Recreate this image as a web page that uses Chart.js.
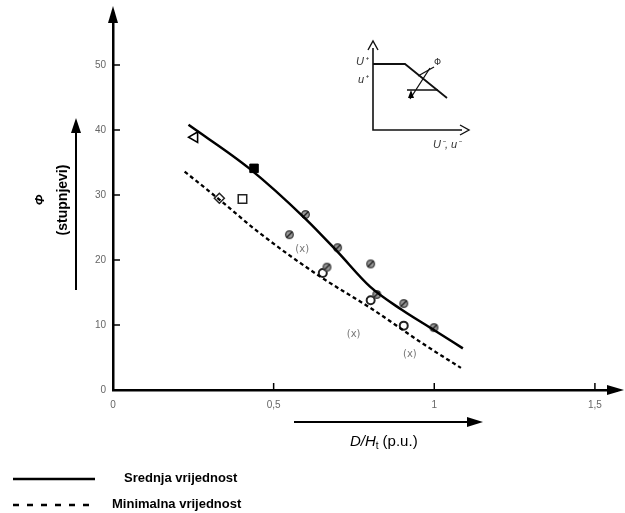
<!DOCTYPE html>
<html>
<head>
<meta charset="utf-8">
<script src="https://cdn.jsdelivr.net/npm/chart.js@4"></script>
<style>
html, body { margin: 0; padding: 0; background: #fff; }
</style>
</head>
<body>
<canvas id="chart" width="625" height="513"></canvas>
<script>
// Axis ticks
const xTicks = [0, 0.5, 1, 1.5];
const xTickLabels = ['0', '0,5', '1', '1,5'];
const yTicks = [0, 10, 20, 30, 40, 50];

// Curves
const meanX = [0.235, 0.424, 0.6, 0.7, 0.8, 0.9, 1.0, 1.089];
const meanY = [40.8, 34.1, 26.3, 21.2, 15.9, 12.3, 9.2, 6.4];
const minX = [0.223, 0.331, 0.455, 0.64, 0.805, 0.97, 1.083];
const minY = [33.6, 29.3, 24.2, 17.6, 12.5, 6.95, 3.4];

// Measured points, by marker type
const triX = [0.254];
const triY = [38.9];
const filledSqX = [0.439];
const filledSqY = [34.1];
const openSqX = [0.403];
const openSqY = [29.4];
const diamondX = [0.331];
const diamondY = [29.5];
const slashX = [0.599, 0.549, 0.699, 0.802, 0.666, 0.821, 0.905, 0.999];
const slashY = [27.0, 23.9, 21.9, 19.4, 18.9, 14.7, 13.3, 9.6];
const ringX = [0.653, 0.802, 0.905];
const ringY = [18.0, 13.8, 9.9];

// "(x)" notes
const noteX = [0.589, 0.749, 0.924];
const noteY = [21.7, 8.5, 5.4];

const legendLabels = ['Srednja vrijednost', 'Minimalna vrijednost'];

function pts(xs, ys) {
    return xs.map((x, i) => ({ x: x, y: ys[i] }));
}

// grey circle with a slash, like the scanned markers
function slashMarker() {
    const c = document.createElement('canvas');
    c.width = 11; c.height = 11;
    const g = c.getContext('2d');
    g.beginPath();
    g.arc(5.5, 5.5, 3.8, 0, Math.PI * 2);
    g.fillStyle = '#999';
    g.fill();
    g.lineWidth = 1.4;
    g.strokeStyle = '#444';
    g.stroke();
    g.beginPath();
    g.moveTo(2.5, 8.5);
    g.lineTo(8.5, 2.5);
    g.strokeStyle = '#222';
    g.stroke();
    return c;
}

const overlay = {
    id: 'overlay',
    afterDraw(chart) {
        const ctx = chart.ctx;
        const a = chart.chartArea;
        const xs = chart.scales.x;
        const ys = chart.scales.y;
        ctx.save();
        ctx.fillStyle = '#000';
        ctx.strokeStyle = '#000';

        // axis arrowheads
        ctx.beginPath();
        ctx.moveTo(a.left, 6);
        ctx.lineTo(a.left - 5, 23);
        ctx.lineTo(a.left + 5, 23);
        ctx.closePath();
        ctx.fill();
        ctx.beginPath();
        ctx.moveTo(624, a.bottom);
        ctx.lineTo(607, a.bottom - 5);
        ctx.lineTo(607, a.bottom + 5);
        ctx.closePath();
        ctx.fill();

        // inward tick marks
        ctx.lineWidth = 1.5;
        yTicks.forEach(v => {
            if (v === 0) return;
            const py = ys.getPixelForValue(v);
            ctx.beginPath();
            ctx.moveTo(a.left, py);
            ctx.lineTo(a.left + 7, py);
            ctx.stroke();
        });
        xTicks.forEach(v => {
            if (v === 0) return;
            const px = xs.getPixelForValue(v);
            ctx.beginPath();
            ctx.moveTo(px, a.bottom);
            ctx.lineTo(px, a.bottom - 7);
            ctx.stroke();
        });

        // y title with arrow
        ctx.lineWidth = 2;
        ctx.beginPath();
        ctx.moveTo(76, 290);
        ctx.lineTo(76, 128);
        ctx.stroke();
        ctx.beginPath();
        ctx.moveTo(76, 118);
        ctx.lineTo(71, 133);
        ctx.lineTo(81, 133);
        ctx.closePath();
        ctx.fill();
        ctx.save();
        ctx.translate(40, 200);
        ctx.rotate(-Math.PI / 2);
        ctx.textAlign = 'center';
        ctx.textBaseline = 'middle';
        ctx.font = 'italic bold 13px "Liberation Sans", Arial, sans-serif';
        ctx.fillText('Φ', 0, 0);
        ctx.restore();
        ctx.save();
        ctx.translate(63, 200);
        ctx.rotate(-Math.PI / 2);
        ctx.textAlign = 'center';
        ctx.textBaseline = 'middle';
        ctx.font = 'bold 14px "Liberation Sans", Arial, sans-serif';
        ctx.fillText('(stupnjevi)', 0, 0);
        ctx.restore();

        // x title with arrow
        ctx.beginPath();
        ctx.moveTo(294, 422);
        ctx.lineTo(470, 422);
        ctx.stroke();
        ctx.beginPath();
        ctx.moveTo(483, 422);
        ctx.lineTo(467, 417);
        ctx.lineTo(467, 427);
        ctx.closePath();
        ctx.fill();
        ctx.textBaseline = 'alphabetic';
        ctx.textAlign = 'left';
        let tx = 350;
        const ty = 446;
        ctx.font = 'italic 15px "Liberation Sans", Arial, sans-serif';
        ctx.fillText('D/H', tx, ty);
        tx += ctx.measureText('D/H').width;
        ctx.font = '10px "Liberation Sans", Arial, sans-serif';
        ctx.fillText('t', tx, ty + 3);
        tx += ctx.measureText('t').width + 4;
        ctx.font = '15px "Liberation Sans", Arial, sans-serif';
        ctx.fillText('(p.u.)', tx, ty);

        // "(x)" notes
        ctx.fillStyle = '#777';
        ctx.font = '10px "DejaVu Sans", sans-serif';
        ctx.textAlign = 'center';
        ctx.textBaseline = 'middle';
        noteX.forEach((v, i) => {
            ctx.fillText('(x)', xs.getPixelForValue(v), ys.getPixelForValue(noteY[i]));
        });

        // inset sketch
        ctx.fillStyle = '#000';
        ctx.strokeStyle = '#111';
        ctx.lineWidth = 1.6;
        ctx.beginPath();
        ctx.moveTo(373, 48);
        ctx.lineTo(373, 130);
        ctx.lineTo(462, 130);
        ctx.stroke();
        ctx.lineWidth = 1.4;
        ctx.beginPath();
        ctx.moveTo(368, 50); ctx.lineTo(373, 41); ctx.lineTo(378, 50);
        ctx.stroke();
        ctx.beginPath();
        ctx.moveTo(460, 125); ctx.lineTo(469, 130); ctx.lineTo(460, 135);
        ctx.stroke();
        ctx.lineWidth = 1.8;
        ctx.beginPath();
        ctx.moveTo(373, 64);
        ctx.lineTo(405, 64);
        ctx.lineTo(447, 98);
        ctx.stroke();
        ctx.lineWidth = 1.3;
        ctx.beginPath();
        ctx.moveTo(407, 90);
        ctx.lineTo(438, 90);
        ctx.moveTo(410, 99);
        ctx.lineTo(430, 68);
        ctx.stroke();
        ctx.beginPath();
        ctx.moveTo(411, 90); ctx.lineTo(408, 98); ctx.lineTo(414, 98);
        ctx.closePath();
        ctx.fill();
        ctx.beginPath();
        ctx.moveTo(418, 76); ctx.lineTo(434, 67);
        ctx.stroke();
        ctx.font = '9px "DejaVu Sans", sans-serif';
        ctx.textAlign = 'left';
        ctx.fillStyle = '#333';
        ctx.fillText('Φ', 434, 63);
        ctx.font = 'italic 11px "Liberation Sans", Arial, sans-serif';
        ctx.textAlign = 'right';
        ctx.fillText('U⁺', 368, 62);
        ctx.fillText('u⁺', 368, 80);
        ctx.textAlign = 'left';
        ctx.fillText('U⁻, u⁻', 433, 145);

        // legend
        ctx.fillStyle = '#000';
        ctx.strokeStyle = '#000';
        ctx.lineWidth = 2.5;
        ctx.beginPath();
        ctx.moveTo(13, 479);
        ctx.lineTo(95, 479);
        ctx.stroke();
        ctx.setLineDash([6, 8]);
        ctx.beginPath();
        ctx.moveTo(13, 505);
        ctx.lineTo(90, 505);
        ctx.stroke();
        ctx.setLineDash([]);
        ctx.font = 'bold 13px "Liberation Sans", Arial, sans-serif';
        ctx.textAlign = 'left';
        ctx.textBaseline = 'middle';
        ctx.fillText(legendLabels[0], 124, 478);
        ctx.fillText(legendLabels[1], 112, 504);

        ctx.restore();
    }
};

window.addEventListener('DOMContentLoaded', () => {
    const ctx = document.getElementById('chart').getContext('2d');
    new Chart(ctx, {
        type: 'scatter',
        data: {
            datasets: [
                {
                    type: 'line',
                    label: legendLabels[0],
                    data: pts(meanX, meanY),
                    borderColor: '#000',
                    borderWidth: 2.5,
                    pointRadius: 0,
                    cubicInterpolationMode: 'monotone',
                    fill: false
                },
                {
                    type: 'line',
                    label: legendLabels[1],
                    data: pts(minX, minY),
                    borderColor: '#000',
                    borderWidth: 2.3,
                    borderDash: [4, 3],
                    pointRadius: 0,
                    cubicInterpolationMode: 'monotone',
                    fill: false
                },
                {
                    data: pts(triX, triY),
                    pointStyle: 'triangle',
                    rotation: -90,
                    pointRadius: 6,
                    borderColor: '#000',
                    borderWidth: 1.6,
                    backgroundColor: '#fff'
                },
                {
                    data: pts(filledSqX, filledSqY),
                    pointStyle: 'rect',
                    pointRadius: 6,
                    borderColor: '#000',
                    backgroundColor: '#000'
                },
                {
                    data: pts(openSqX, openSqY),
                    pointStyle: 'rect',
                    pointRadius: 6,
                    borderColor: '#222',
                    borderWidth: 1.5,
                    backgroundColor: '#fff'
                },
                {
                    data: pts(diamondX, diamondY),
                    pointStyle: 'rectRot',
                    pointRadius: 5,
                    borderColor: '#222',
                    borderWidth: 1.5,
                    backgroundColor: '#fff'
                },
                {
                    data: pts(slashX, slashY),
                    pointStyle: slashMarker()
                },
                {
                    data: pts(ringX, ringY),
                    pointStyle: 'circle',
                    pointRadius: 4,
                    borderColor: '#222',
                    borderWidth: 2,
                    backgroundColor: 'rgba(255,255,255,0)'
                }
            ]
        },
        options: {
            responsive: false,
            animation: false,
            layout: { padding: { top: 8, right: 5, left: 0, bottom: 0 } },
            plugins: {
                legend: { display: false },
                tooltip: { enabled: false }
            },
            scales: {
                x: {
                    type: 'linear',
                    min: 0,
                    max: 1.57,
                    afterBuildTicks: axis => { axis.ticks = xTicks.map(v => ({ value: v })); },
                    afterFit: axis => { axis.height = 123; },
                    grid: { display: false, drawTicks: false },
                    border: { display: true, color: '#000', width: 2.5 },
                    ticks: {
                        padding: 9,
                        color: '#666',
                        font: { family: '"Liberation Sans", Arial, sans-serif', size: 10 },
                        callback: (v, i) => xTickLabels[i]
                    }
                },
                y: {
                    type: 'linear',
                    min: 0,
                    max: 58,
                    afterBuildTicks: axis => { axis.ticks = yTicks.map(v => ({ value: v })); },
                    afterFit: axis => { axis.width = 113; },
                    grid: { display: false, drawTicks: false },
                    border: { display: true, color: '#000', width: 2.5 },
                    ticks: {
                        padding: 7,
                        color: '#666',
                        font: { family: '"Liberation Sans", Arial, sans-serif', size: 10 }
                    }
                }
            }
        },
        plugins: [overlay]
    });
});
</script>
</body>
</html>
